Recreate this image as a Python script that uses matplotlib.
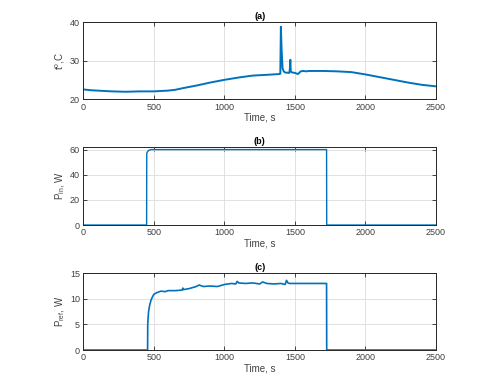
import matplotlib
matplotlib.use("Agg")
import matplotlib.pyplot as plt

# ---- data ----
t_time = [0, 50, 100, 200, 300, 400, 500, 600, 650, 700, 800, 900, 1000, 1100, 1200,
          1300, 1390, 1396, 1400, 1405, 1412, 1420, 1430, 1460, 1464, 1467, 1470,
          1480, 1500, 1520, 1530, 1540, 1560, 1580, 1600, 1700, 1800, 1900, 2000,
          2100, 2200, 2300, 2400, 2500]
t_vals = [22.5, 22.3, 22.2, 22.0, 21.9, 22.0, 22.0, 22.2, 22.4, 22.8, 23.5, 24.3, 25.0,
          25.6, 26.1, 26.3, 26.5, 26.6, 38.8, 33.0, 28.0, 27.2, 26.9, 26.8, 28.0,
          30.2, 27.2, 26.9, 26.8, 26.5, 26.8, 27.2, 27.3, 27.2, 27.3, 27.3, 27.2,
          27.0, 26.4, 25.7, 25.0, 24.3, 23.7, 23.3]

pin_time = [0, 448, 449, 455, 465, 480, 500, 1000, 1724, 1725, 2500]
pin_vals = [0, 0, 57, 58.5, 59.5, 60, 60, 60, 60, 0, 0]

pref_time = [0, 455, 456, 458, 462, 470, 480, 490, 500, 520, 550, 580, 600, 650, 700,
             705, 710, 750, 800, 820, 850, 900, 950, 1000, 1050, 1080, 1090, 1100,
             1150, 1200, 1250, 1270, 1300, 1350, 1400, 1430, 1440, 1450, 1460, 1500,
             1600, 1724, 1725, 2500]
pref_vals = [0, 0, 5.0, 6.0, 7.5, 8.8, 9.8, 10.4, 10.9, 11.2, 11.5, 11.4, 11.6, 11.6,
             11.7, 12.1, 11.8, 12.0, 12.4, 12.7, 12.4, 12.5, 12.4, 12.8, 13.0, 12.9,
             13.4, 13.1, 13.0, 13.1, 12.9, 13.3, 13.0, 12.9, 13.0, 12.8, 13.6, 13.1,
             13.0, 13.0, 13.0, 13.0, 0, 0]

titles = ["(a)", "(b)", "(c)"]
ylabels = ["t$^{o}$,C", "P$_{in}$, W", "P$_{ref}$, W"]
yticks = [[20, 30, 40], [0, 20, 40, 60], [0, 5, 10, 15]]
ylims = [(20, 40), (0, 62), (0, 15)]
xticks = [0, 500, 1000, 1500, 2000, 2500]
xlabel = "Time, s"

plt.rcParams['font.family'] = ['Liberation Sans', 'DejaVu Sans']
plt.rcParams['mathtext.fontset'] = 'custom'
plt.rcParams['mathtext.rm'] = 'Liberation Sans'
plt.rcParams['mathtext.it'] = 'Liberation Sans'

fig = plt.figure(figsize=(4.85, 3.84), dpi=100)
positions = [[0.172, 0.742, 0.727, 0.2005],
             [0.172, 0.414, 0.727, 0.203],
             [0.172, 0.0885, 0.727, 0.2]]
series = [(t_time, t_vals), (pin_time, pin_vals), (pref_time, pref_vals)]
widths = [1.4, 1.0, 1.2]
col = '#0072BD'
for i in range(3):
    ax = fig.add_axes(positions[i])
    x, y = series[i]
    ax.plot(x, y, color=col, lw=widths[i])
    ax.set_xlim(0, 2500)
    ax.set_ylim(*ylims[i])
    ax.set_xticks(xticks)
    ax.set_yticks(yticks[i])
    ax.grid(True, color='#dcdcdc', lw=0.6)
    ax.set_axisbelow(True)
    ax.tick_params(direction='in', length=3, width=0.6, labelsize=6.5,
                   colors='#262626', labelcolor='#404040', top=True, right=True, pad=2.5)
    for s in ax.spines.values():
        s.set_color('#262626')
        s.set_linewidth(0.7)
    ax.set_title(titles[i], fontsize=6.5, fontweight='bold', pad=2)
    ax.set_xlabel(xlabel, fontsize=7, color='#404040', labelpad=1)
    ax.set_ylabel(ylabels[i], fontsize=7, color='#404040', labelpad=2)

fig.savefig("out.png", dpi=100)
